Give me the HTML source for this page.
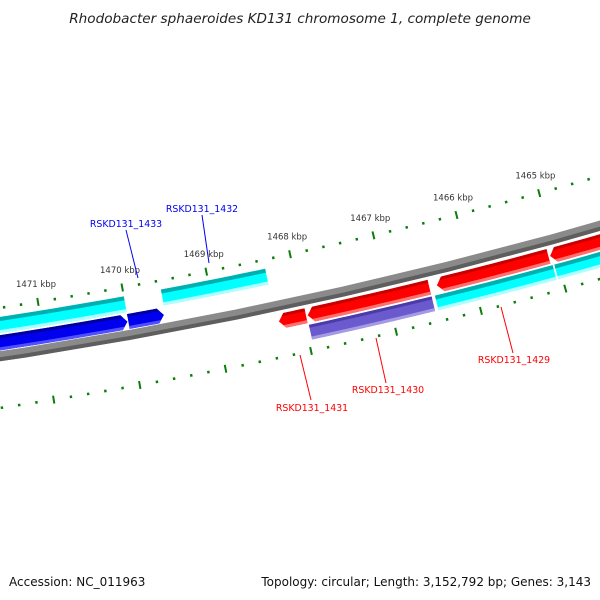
<!DOCTYPE html>
<html><head><meta charset="utf-8"><style>
html,body{margin:0;padding:0;background:#fff;}
svg{display:block;font-family:"DejaVu Sans","Liberation Sans",sans-serif;}
</style></head><body>
<svg id="map" width="600" height="600" viewBox="0 0 600 600">
<text x="300" y="23" text-anchor="middle" font-size="13.6" font-style="italic" fill="#222">Rhodobacter sphaeroides KD131 chromosome 1, complete genome</text>
<g id="ticks"></g>
<g id="genes"></g>
<g id="labels">
<line x1="126" y1="230" x2="138" y2="278" stroke="#0000ee" stroke-width="1"/>
<text x="126" y="227" text-anchor="middle" font-size="9.4" fill="#0000ee">RSKD131_1433</text>
<line x1="202" y1="215" x2="209" y2="263" stroke="#0000ee" stroke-width="1"/>
<text x="202" y="212" text-anchor="middle" font-size="9.4" fill="#0000ee">RSKD131_1432</text>
<line x1="300" y1="355" x2="311" y2="400" stroke="#ff0000" stroke-width="1"/>
<text x="312" y="411" text-anchor="middle" font-size="9.4" fill="#ff0000">RSKD131_1431</text>
<line x1="376" y1="338" x2="386" y2="383" stroke="#ff0000" stroke-width="1"/>
<text x="388" y="393" text-anchor="middle" font-size="9.4" fill="#ff0000">RSKD131_1430</text>
<line x1="501" y1="307" x2="513" y2="353" stroke="#ff0000" stroke-width="1"/>
<text x="514" y="363" text-anchor="middle" font-size="9.4" fill="#ff0000">RSKD131_1429</text>
</g>
<text x="9" y="586" font-size="12" fill="#111">Accession: NC_011963</text>
<text x="591" y="586" text-anchor="end" font-size="12" fill="#111">Topology: circular; Length: 3,152,792 bp; Genes: 3,143</text>
</svg>
<script>
const majorTicks=[1464,1465,1466,1467,1468,1469,1470,1471,1472];
const tickLabels=["","1465 kbp","1466 kbp","1467 kbp","1468 kbp","1469 kbp","1470 kbp","1471 kbp","1472 kbp"];
const geneStart=[1470.00,1468.32,1470.01,1469.58,1467.97,1466.51,1465.09,1463.5,1466.51,1465.07,1463.5];
const geneEnd  =[1472.5,1469.56,1472.5,1470.00,1468.29,1467.95,1466.42,1465.07,1467.96,1466.47,1465.05];
const geneTrack=["ci","ci","bi","bi","ro","ro","ro","ro","oo","oo","oo"];
const geneStrand=[0,0,1,1,-1,-1,-1,-1,0,0,0];
const geneKind=["cyan","cyan","blue","blue","red","red","red","red","purple","cyan","cyan"];
const NS='http://www.w3.org/2000/svg';
const CX=-724,CY=-4418;
function ang(k){return (80.83+(k-1471)*1.025)*Math.PI/180;}
function pt(k,r){const a=ang(k);return [CX+r*Math.cos(a),CY+r*Math.sin(a)];}
const tracks={ci:[4790,4806],bi:[4808,4823],ro:[4837,4852],oo:[4854,4869]};
const styles={cyan:["#00ffff","#00b0b0","#b0ffff"],blue:["#0000ee","#0000a0","#5050ff"],red:["#ff0000","#c80000","#ff7070"],purple:["#6a5acd","#4a3ca8","#a59ae6"]};
function el(t,a){const e=document.createElementNS(NS,t);for(const k in a)e.setAttribute(k,a[k]);return e;}
const gG=document.getElementById('genes');
function band(k1,k2,r1,r2,strand){
  const h=0.07, pts=[]; const rm=(r1+r2)/2;
  let a=k1,b=k2;
  if(strand===-1)a=k1-h; if(strand===1)b=k2+h;
  const n=12;
  if(strand===-1)pts.push(pt(k1,rm));
  for(let i=0;i<=n;i++)pts.push(pt(a+(b-a)*i/n,r1));
  if(strand===1)pts.push(pt(k2,rm));
  for(let i=n;i>=0;i--)pts.push(pt(a+(b-a)*i/n,r2));
  return pts.map(p=>p[0].toFixed(2)+','+p[1].toFixed(2)).join(' ');
}
const bb=el('polygon',{points:band(1475,1460,4824,4834,0),fill:'#8a8a8a'});


gG.appendChild(bb);
const bb2=el('polygon',{points:band(1475,1460,4830,4834,0),fill:'#5e5e5e'});


gG.appendChild(bb2);
const defs=el('defs',{});document.getElementById('map').appendChild(defs);
for(let i=0;i<geneStart.length;i++){
  const [r1,r2]=tracks[geneTrack[i]];const st=styles[geneKind[i]];
  const hi=geneEnd[i],lo=geneStart[i];
  const cp=el('clipPath',{id:'cp'+i});
  cp.appendChild(el('polygon',{points:band(hi,lo,r1,r2,geneStrand[i])}));defs.appendChild(cp);
  const g=el('g',{'clip-path':'url(#cp'+i+')'});
  
  
  g.appendChild(el('polygon',{points:band(hi+0.2,lo-0.2,r1-1,r2+1,0),fill:st[0]}));
  g.appendChild(el('polygon',{points:band(hi+0.2,lo-0.2,r1-1,r1+(geneKind[i]==='cyan'?4:3),0),fill:st[1]}));
  g.appendChild(el('polygon',{points:band(hi+0.2,lo-0.2,r2-3,r2+1,0),fill:st[2]}));
  gG.appendChild(g);
}
const tG=document.getElementById('ticks');
for(let m=0;m<majorTicks.length;m++){
  for(let j=0;j<5;j++){
    const k=majorTicks[m]+j*0.2;
    const len=j===0?4:1.3;
    for(const r of [4781,4880]){
      const p1=pt(k,r-len),p2=pt(k,r+len);
      const ln=el('line',{x1:p1[0],y1:p1[1],x2:p2[0],y2:p2[1],stroke:'#0a7d0a','stroke-width':j===0?2:2.4});
      
      
      tG.appendChild(ln);
    }
  }
  if(!tickLabels[m])continue;
  const lp=pt(majorTicks[m],4763);
  const tx=el('text',{x:lp[0]+1,y:lp[1]+3,'text-anchor':'middle','font-size':'8.5',fill:'#333'});
  tx.textContent=tickLabels[m];
  
  
  tG.appendChild(tx);
}
</script>
</body></html>
